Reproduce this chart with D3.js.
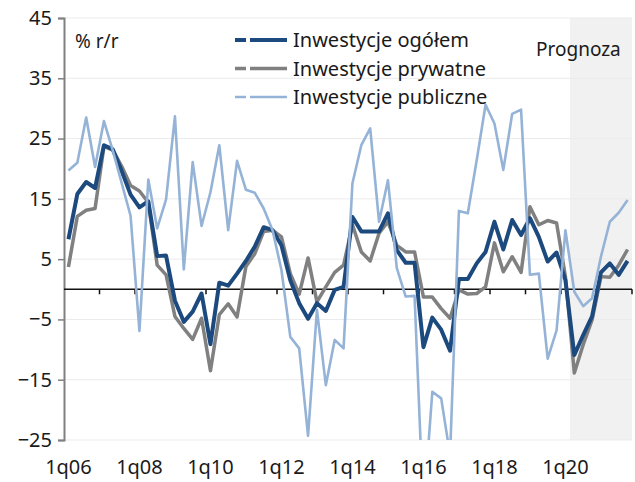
<!DOCTYPE html>
<html>
<head>
<meta charset="utf-8">
<script src="https://cdn.jsdelivr.net/npm/d3@7"></script>
<style>
  body { margin: 0; background: #fff; }
  text { font-family: "Noto Sans", sans-serif; fill: #1a1a1a; }
</style>
</head>
<body>
<div class="svg-container"></div>
<script>
// data, quarterly y/y % change
const years = ["06","07","08","09","10","11","12","13","14","15","16","17","18","19","20","21"];
const quarters = years.flatMap(y => [1,2,3,4].map(q => q + "q" + y));
const xLabels = ["1q06","1q08","1q10","1q12","1q14","1q16","1q18","1q20"];
const yTicks = [-25, -15, -5, 5, 15, 25, 35, 45];
const forecastStart = "2q20";

const ogolem = [8.3, 15.8, 17.8, 16.8, 23.9, 23.2, 19.6, 15.7, 13.6, 14.6, 5.5, 5.6, -1.9, -5.4, -3.7, -0.7,
  -9.1, 1.1, 0.6, 2.6, 4.7, 7.1, 10.3, 9.8, 7.3, 1.5, -2.3, -4.9, -2.3, -3.6, -0.1, 0.4,
  12.0, 9.6, 9.6, 9.6, 12.6, 6.5, 4.4, 4.4, -9.6, -4.7, -6.7, -10.2, 1.7, 1.7, 4.3, 6.2,
  11.2, 6.6, 11.5, 9.0, 11.8, 8.7, 4.6, 6.1, 1.5, -10.9, -7.6, -4.5, 2.8, 4.3, 2.4, 4.7];
const prywatne = [3.7, 12.1, 13.1, 13.4, 23.7, 23.1, 20.4, 17.2, 16.3, 14.4, 4.0, 2.4, -4.5, -6.5, -8.3, -4.8,
  -13.5, -4.2, -2.4, -4.6, 3.8, 5.9, 9.6, 9.8, 8.7, 2.6, -0.8, 5.2, -2.1, 0.4, 2.8, 4.0,
  10.7, 6.2, 4.7, 9.3, 11.2, 7.3, 6.2, 6.2, -1.3, -1.3, -3.2, -4.8, -0.1, -0.8, -0.7, 0.4,
  7.7, 2.9, 5.4, 2.8, 13.7, 10.7, 11.4, 11.0, 2.1, -13.9, -9.2, -5.1, 2.1, 2.0, 4.0, 6.6];
const publiczne = [19.7, 21.0, 28.5, 20.3, 27.9, 23.0, 17.6, 12.2, -6.9, 18.2, 10.1, 14.9, 28.7, 3.3, 21.1, 10.5,
  16.1, 23.9, 9.8, 21.3, 16.5, 16.0, 13.4, 9.8, 3.2, -7.9, -9.8, -24.3, -3.4, -15.9, -8.4, -9.8,
  17.6, 23.9, 26.7, 11.2, 18.1, 3.5, -1.2, -1.1, -37, -17.0, -18.1, -27.5, 13.0, 12.6, 21.4, 30.6,
  27.5, 19.8, 29.1, 29.8, 2.4, 2.6, -11.5, -6.8, 9.8, -0.4, -2.8, -1.5, 5.4, 11.2, 12.7, 14.8];

const series = [
  {name: "Inwestycje ogółem", values: ogolem, color: "#1d4a7e", width: 4},
  {name: "Inwestycje prywatne", values: prywatne, color: "#808080", width: 3.5},
  {name: "Inwestycje publiczne", values: publiczne, color: "#95b3d7", width: 2.6}
];
const drawOrder = [1, 0, 2];

// SVG

const w = 635;
const h = 482;
const margin = {top: 18, right: 3, bottom: 42, left: 64};

const svg = d3.select(".svg-container")
  .append("svg")
  .attr("width", w)
  .attr("height", h)
  .attr("viewBox", `0 0 ${w} ${h}`);

const x = d3.scaleBand()
  .domain(quarters)
  .range([margin.left, w - margin.right]);
const y = d3.scaleLinear()
  .domain([-25, 45])
  .range([h - margin.bottom, margin.top]);

const cx = q => x(q) + x.bandwidth() / 2;

// forecast shading
svg.append("rect")
  .attr("x", x(forecastStart))
  .attr("y", y(45))
  .attr("width", x.range()[1] - x(forecastStart))
  .attr("height", y(-25) - y(45))
  .style("fill", "#f1f1f1");

// gridlines
svg.append("g").selectAll("line").data(yTicks).enter()
  .append("line")
  .attr("x1", margin.left).attr("x2", x.range()[1])
  .attr("y1", d => y(d)).attr("y2", d => y(d))
  .style("stroke", "#ebebeb").style("stroke-width", 1);

// y axis
const yAxis = svg.append("g")
  .attr("transform", `translate(${margin.left},0)`)
  .call(d3.axisLeft(y).tickValues(yTicks).tickSize(6).tickPadding(6));
yAxis.select(".domain").style("stroke", "#808080").style("stroke-width", 2);
yAxis.selectAll(".tick line").style("stroke", "#808080").style("stroke-width", 1.5);
yAxis.selectAll(".tick text").style("font-size", "20px").style("fill", "#1a1a1a")
  .style("font-family", "'Noto Sans', sans-serif");

// zero line with quarter ticks
const zeroTicks = quarters.filter((q, i) => i > 0 && i % 4 === 0).map(q => x(q)).concat([x.range()[1]]);
svg.append("line")
  .attr("x1", margin.left).attr("x2", x.range()[1])
  .attr("y1", y(0)).attr("y2", y(0))
  .style("stroke", "#111").style("stroke-width", 1.5);
svg.append("g").selectAll("line").data(zeroTicks).enter()
  .append("line")
  .attr("x1", d => d).attr("x2", d => d)
  .attr("y1", y(0)).attr("y2", y(0) + 5)
  .style("stroke", "#111").style("stroke-width", 1.5);

// x labels
svg.append("g").selectAll("text").data(xLabels).enter()
  .append("text")
  .attr("x", d => cx(d))
  .attr("y", h - 8)
  .attr("text-anchor", "middle")
  .style("font-size", "20px")
  .text(d => d);

// clip to plot area
svg.append("clipPath").attr("id", "plot-clip")
  .append("rect")
  .attr("x", margin.left).attr("y", y(45))
  .attr("width", x.range()[1] - margin.left)
  .attr("height", y(-25) - y(45));

const line = d3.line()
  .x((d, i) => cx(quarters[i]))
  .y(d => y(d));

const lines = svg.append("g").attr("clip-path", "url(#plot-clip)");
drawOrder.forEach(k => {
  const s = series[k];
  lines.append("path")
    .attr("d", line(s.values))
    .style("fill", "none")
    .style("stroke", s.color)
    .style("stroke-width", s.width)
    .style("stroke-linejoin", "round");
});

// legend
const legend = svg.append("g");
series.forEach((s, i) => {
  const ly = 40 + i * 28.5;
  legend.append("line")
    .attr("x1", 235).attr("x2", 287)
    .attr("y1", ly).attr("y2", ly)
    .style("stroke", s.color)
    .style("stroke-width", s.width)
    .style("stroke-dasharray", "11,4,37");
  legend.append("text")
    .attr("x", 293).attr("y", ly)
    .attr("dy", "0.35em")
    .style("font-size", "20px")
    .text(s.name);
});

svg.append("text")
  .attr("x", 75).attr("y", 48)
  .style("font-size", "19px")
  .text("% r/r");

svg.append("text")
  .attr("x", 536).attr("y", 56)
  .style("font-size", "19px")
  .text("Prognoza");
</script>
</body>
</html>
